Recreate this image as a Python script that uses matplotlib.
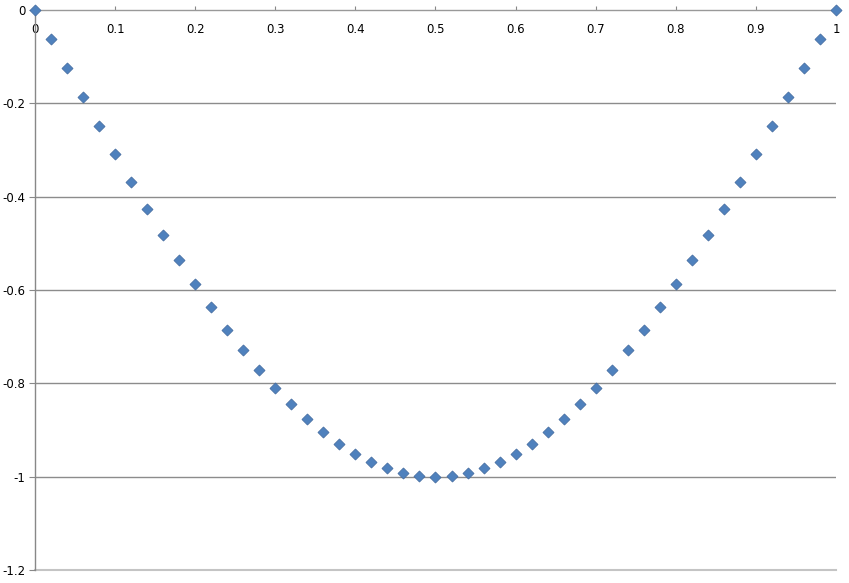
import matplotlib.pyplot as plt
import numpy as np

# Daten
x_vals = [0.00, 0.02, 0.04, 0.06, 0.08, 0.10, 0.12, 0.14, 0.16, 0.18,
          0.20, 0.22, 0.24, 0.26, 0.28, 0.30, 0.32, 0.34, 0.36, 0.38,
          0.40, 0.42, 0.44, 0.46, 0.48, 0.50, 0.52, 0.54, 0.56, 0.58,
          0.60, 0.62, 0.64, 0.66, 0.68, 0.70, 0.72, 0.74, 0.76, 0.78,
          0.80, 0.82, 0.84, 0.86, 0.88, 0.90, 0.92, 0.94, 0.96, 0.98, 1.00]
half = [0.0, -0.063, -0.125, -0.187, -0.249, -0.309, -0.368, -0.426, -0.482,
        -0.536, -0.588, -0.637, -0.685, -0.729, -0.771, -0.809, -0.844,
        -0.876, -0.905, -0.930, -0.951, -0.969, -0.982, -0.992, -0.998, -1.0]
y_vals = half + half[-2::-1]

x_ticks = [0, 0.1, 0.2, 0.3, 0.4, 0.5, 0.6, 0.7, 0.8, 0.9, 1]
x_labels = ["0", "0.1", "0.2", "0.3", "0.4", "0.5", "0.6", "0.7", "0.8", "0.9", "1"]
y_ticks = [0, -0.2, -0.4, -0.6, -0.8, -1, -1.2]
y_labels = ["0", "-0.2", "-0.4", "-0.6", "-0.8", "-1", "-1.2"]

fig = plt.figure(figsize=(8.49, 5.83), dpi=100)
ax = fig.add_axes([0.0412, 0.0223, 0.9435, 0.9605])

ax.scatter(x_vals, y_vals, marker="D", s=32, facecolor="#4F81BD",
           edgecolor="#41699E", linewidth=0.5, zorder=3, clip_on=False)

ax.set_xlim(0, 1)
ax.set_ylim(-1.2, 0)

ax.set_yticks(y_ticks)
ax.set_yticklabels(y_labels, fontsize=8.5)
ax.set_xticks(x_ticks)
ax.set_xticklabels(x_labels, fontsize=8.5)

# x-Achse bei y=0 (oben), Beschriftung unter der Linie
ax.xaxis.set_ticks_position("top")
ax.tick_params(axis="x", direction="out", length=3, color="#888888",
               pad=-22, labeltop=True)
ax.tick_params(axis="y", direction="out", length=4, color="#888888", pad=3)

for s in ["right", "bottom"]:
    ax.spines[s].set_visible(False)
ax.spines["top"].set_color("#999999")
ax.spines["left"].set_color("#888888")
ax.spines["top"].set_linewidth(1.0)
ax.spines["left"].set_linewidth(1.0)

for yt in y_ticks[1:-1]:
    ax.axhline(yt, color="#8c8c8c", linewidth=1.0, zorder=1)
ax.axhline(-1.2, color="#c4c4c4", linewidth=1.5, zorder=1, clip_on=False)

fig.savefig("out.png", dpi=100)
